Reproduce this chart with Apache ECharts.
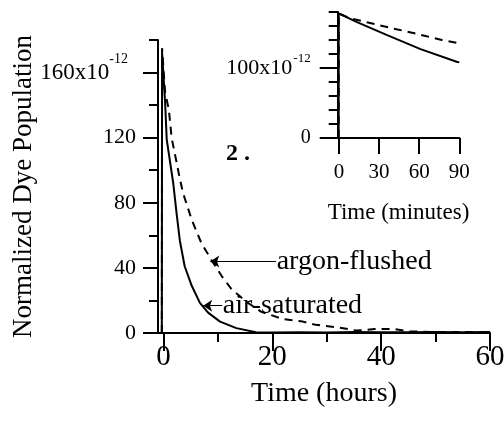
<!DOCTYPE html>
<html>
<head>
<meta charset="utf-8">
<script src="https://cdn.jsdelivr.net/npm/echarts@6/dist/echarts.min.js"></script>
<style>
  html, body { margin: 0; padding: 0; background: #fff; }
  #chart { width: 504px; height: 421px; }
</style>
</head>
<body>
<div id="chart"></div>
<script>
// main panel, time in hours
const airHours = [-0.3, -0.25, 0.3, 0.6, 1.8, 2.4, 3.0, 3.9, 5.2, 6.7, 8.2, 10.4, 13.4, 17, 20, 25, 30, 35, 40, 45, 50, 55, 60];
const airValues = [0, 172, 142, 119, 92, 74, 57, 41, 29, 18.5, 12.5, 7, 3, 0.5, 0.3, 0.4, 0.3, 0.6, 0.5, 0.4, 0.6, 0.4, 0.6];
const argonHours = [-0.3, -0.25, 0.3, 1.0, 1.5, 3.0, 3.6, 5.2, 7.0, 8.8, 10.7, 12.5, 15.3, 18, 22, 25.6, 28, 32, 35.4, 38.8, 42.5, 45, 50, 55, 60];
const argonValues = [0, 175, 148, 137, 120, 95, 86, 69.5, 55, 45, 35, 27, 19, 13, 8.5, 7, 5, 3.5, 1.5, 2.4, 2.4, 1, 0.6, 0.6, 0.6];

// inset, time in minutes
const airMinutes = [-0.3, -0.2, 13, 36, 61, 88, 90];
const airInset = [0, 178, 166, 147, 127, 109, 108];
const argonMinutes = [-0.3, -0.2, 8, 24, 38, 51, 64, 77, 88, 90];
const argonInset = [0, 178, 171, 164, 157.5, 152, 146, 140, 136, 135];

const hourTicks = [0, 10, 20, 30, 40, 50, 60];
const hourLabels = [0, 20, 40, 60];
const popTicks = [0, 20, 40, 60, 80, 100, 120, 140, 160, 180];
const popLabels = [0, 40, 80, 120, 160];
const minuteLabels = [0, 30, 60, 90];
const insetLabels = [0, 100];

const font = 'Liberation Serif';
const black = '#000';

function pairs(xs, ys) {
  return xs.map((x, i) => [x, ys[i]]);
}

function tickAxis(grid, min, max, ticks, len, pos) {
  // extra axis only used for the longer ticks
  return {
    type: 'value', gridIndex: grid, min: min, max: max, position: pos,
    axisLine: { show: false, onZero: false },
    axisTick: { show: true, customValues: ticks, length: len, lineStyle: { color: black, width: 2 } },
    axisLabel: { show: false },
    splitLine: { show: false }
  };
}

const chart = echarts.init(document.getElementById('chart'));

const option = {
  animation: false,
  backgroundColor: '#fff',
  grid: [
    { left: 158, right: 14, top: 40, bottom: 88, containLabel: false, outerBoundsMode: 'none' },
    { left: 337.7, right: 44.7, top: 12, bottom: 283, containLabel: false, outerBoundsMode: 'none' }
  ],
  xAxis: [
    {
      type: 'value', gridIndex: 0, min: -1, max: 60, position: 'bottom',
      axisLine: { show: true, onZero: false, lineStyle: { color: black, width: 2 } },
      axisTick: { show: true, customValues: hourTicks, length: 9, lineStyle: { color: black, width: 2 } },
      axisLabel: { customValues: hourLabels, margin: 10, fontSize: 29, color: black, fontFamily: font },
      splitLine: { show: false },
      name: 'Time (hours)', nameLocation: 'middle', nameGap: 47, nameMoveOverlap: false,
      nameTextStyle: { fontSize: 28, color: black, fontFamily: font }
    },
    tickAxis(0, -1, 60, hourLabels, 18, 'bottom'),
    {
      type: 'value', gridIndex: 1, min: -1, max: 90, position: 'bottom',
      axisLine: { show: true, onZero: false, lineStyle: { color: black, width: 2 } },
      axisTick: { show: true, customValues: minuteLabels, length: 16, lineStyle: { color: black, width: 2 } },
      axisLabel: { customValues: minuteLabels, margin: 24, fontSize: 21, color: black, fontFamily: font },
      splitLine: { show: false },
      name: 'Time (minutes)', nameLocation: 'middle', nameGap: 63, nameMoveOverlap: false,
      nameTextStyle: { fontSize: 23, color: black, fontFamily: font }
    }
  ],
  yAxis: [
    {
      type: 'value', gridIndex: 0, min: 0, max: 180, position: 'left',
      axisLine: { show: true, onZero: false, lineStyle: { color: black, width: 2 } },
      axisTick: { show: true, customValues: popTicks, length: 9, lineStyle: { color: black, width: 2 } },
      axisLabel: {
        customValues: popLabels, margin: 22, fontSize: 22, color: black, fontFamily: font,
        formatter: v => v === 160 ? '{m|160x10}{s|-12}' : String(v),
        rich: {
          m: { fontSize: 23, color: black, fontFamily: font },
          s: { fontSize: 14, color: black, fontFamily: font, verticalAlign: 'bottom', padding: [0, 8, 26, 0] }
        }
      },
      splitLine: { show: false },
      name: 'Normalized Dye Population', nameLocation: 'middle', nameGap: 121, nameMoveOverlap: false,
      nameTextStyle: { fontSize: 27, color: black, fontFamily: font }
    },
    tickAxis(0, 0, 180, popLabels, 15, 'left'),
    {
      type: 'value', gridIndex: 1, min: 0, max: 180, position: 'left',
      axisLine: { show: true, onZero: false, lineStyle: { color: black, width: 2 } },
      axisTick: { show: true, customValues: popTicks, length: 9, lineStyle: { color: black, width: 2 } },
      axisLabel: {
        customValues: insetLabels, margin: 27, fontSize: 20, color: black, fontFamily: font,
        formatter: v => v === 100 ? '{m|100x10}{s|-12}' : String(v),
        rich: {
          m: { fontSize: 22, color: black, fontFamily: font },
          s: { fontSize: 13, color: black, fontFamily: font, verticalAlign: 'bottom', padding: [0, 0, 18, 1] }
        }
      },
      splitLine: { show: false }
    },
    tickAxis(1, 0, 180, insetLabels, 18, 'left')
  ],
  series: [
    {
      name: 'air-saturated', type: 'line', xAxisIndex: 0, yAxisIndex: 0,
      data: pairs(airHours, airValues), showSymbol: false,
      lineStyle: { color: black, width: 2 },
      markLine: {
        silent: true, symbol: ['none', 'arrow'], symbolSize: 9,
        label: { show: false },
        lineStyle: { color: black, width: 1, type: 'solid' },
        data: [[{ coord: [10.8, 16.8] }, { coord: [7.3, 16.8] }]]
      },
      markPoint: {
        silent: true, symbol: 'circle', symbolSize: 0,
        label: { show: true, position: 'right', distance: 0, fontSize: 28, color: black, fontFamily: font, formatter: 'air-saturated' },
        data: [{ coord: [10.9, 16.8] }]
      }
    },
    {
      name: 'argon-flushed', type: 'line', xAxisIndex: 0, yAxisIndex: 0,
      data: pairs(argonHours, argonValues), showSymbol: false,
      lineStyle: { color: black, width: 2, type: [8, 6] },
      markLine: {
        silent: true, symbol: ['none', 'arrow'], symbolSize: 9,
        label: { show: false },
        lineStyle: { color: black, width: 1, type: 'solid' },
        data: [[{ coord: [20.7, 44] }, { coord: [8.6, 44] }]]
      },
      markPoint: {
        silent: true, symbol: 'circle', symbolSize: 0,
        label: { show: true, position: 'right', distance: 0, fontSize: 28, color: black, fontFamily: font, formatter: 'argon-flushed' },
        data: [{ coord: [20.8, 44] }]
      }
    },
    {
      name: 'air-saturated inset', type: 'line', xAxisIndex: 2, yAxisIndex: 2,
      data: pairs(airMinutes, airInset), showSymbol: false,
      lineStyle: { color: black, width: 2 }
    },
    {
      name: 'argon-flushed inset', type: 'line', xAxisIndex: 2, yAxisIndex: 2,
      data: pairs(argonMinutes, argonInset), showSymbol: false,
      lineStyle: { color: black, width: 2, type: [8, 6] }
    }
  ],
  graphic: [
    {
      type: 'text', left: 226, top: 142,
      style: { text: '2 .', fontSize: 24, fontWeight: 'bold', fill: black, fontFamily: font }
    }
  ]
};

chart.setOption(option);
</script>
</body>
</html>
